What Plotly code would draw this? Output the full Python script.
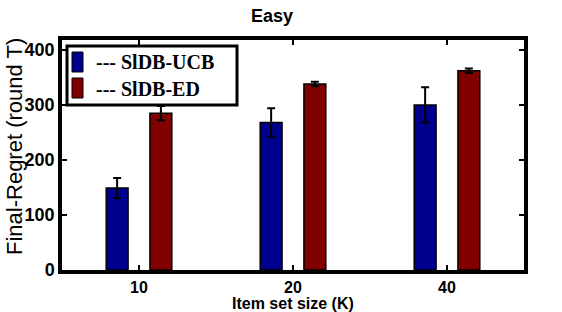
import plotly.graph_objects as go

categories = ["10", "20", "40"]
ucb_values = [149, 268, 300]
ucb_err = [18, 26, 32]
ed_values = [285, 338, 362]
ed_err = [13, 4, 4]
series_names = ["--- SlDB-UCB", "--- SlDB-ED"]
y_ticks = [0, 100, 200, 300, 400]

BLUE = "#00008F"
RED = "#800000"

fig = go.Figure()
fig.add_trace(go.Bar(
    x=categories, y=ucb_values, name=series_names[0],
    marker=dict(color=BLUE, line=dict(color="black", width=1.5)),
    error_y=dict(type="data", array=ucb_err, color="black", thickness=2, width=4),
    showlegend=False,
))
fig.add_trace(go.Bar(
    x=categories, y=ed_values, name=series_names[1],
    marker=dict(color=RED, line=dict(color="black", width=1.5)),
    error_y=dict(type="data", array=ed_err, color="black", thickness=2, width=4),
    showlegend=False,
))

W, H = 562, 312
l, r, t, b = 62, 38, 40, 42
pw, ph = W - l - r, H - t - b

def px(x):
    return (x - l) / pw

def py(y):
    return 1 - (y - t) / ph

shapes = [
    dict(type="rect", xref="paper", yref="paper",
         x0=px(67), x1=px(237), y0=py(105), y1=py(46),
         line=dict(color="black", width=3), fillcolor="white", layer="above"),
    dict(type="rect", xref="paper", yref="paper",
         x0=px(72), x1=px(83), y0=py(72), y1=py(52),
         line=dict(color="black", width=1), fillcolor=BLUE, layer="above"),
    dict(type="rect", xref="paper", yref="paper",
         x0=px(72), x1=px(83), y0=py(98), y1=py(78),
         line=dict(color="black", width=1), fillcolor=RED, layer="above"),
]
annotations = [
    dict(text="<b>%s</b>" % series_names[0], xref="paper", yref="paper",
         x=px(95), y=py(62), xanchor="left", yanchor="middle", showarrow=False,
         borderpad=0, font=dict(family="Liberation Serif", size=20, color="black")),
    dict(text="<b>%s</b>" % series_names[1], xref="paper", yref="paper",
         x=px(95), y=py(89), xanchor="left", yanchor="middle", showarrow=False,
         borderpad=0, font=dict(family="Liberation Serif", size=20, color="black")),
    dict(text="Final-Regret (round T)", xref="paper", yref="paper",
         x=px(14), y=py(147), xanchor="center", yanchor="middle", textangle=-90,
         showarrow=False, borderpad=0,
         font=dict(family="Liberation Sans", size=22, color="#000000")),
    dict(text="<b>Item set size (K)</b>", xref="paper", yref="paper",
         x=px(293), y=py(303.7), xanchor="center", yanchor="middle",
         showarrow=False, borderpad=0,
         font=dict(family="Liberation Sans", size=16, color="#000000")),
]

fig.update_layout(
    width=W, height=H,
    margin=dict(l=l, r=r, t=t, b=b),
    paper_bgcolor="white", plot_bgcolor="white",
    barmode="group", bargap=0.432, bargroupgap=0.5,
    title=dict(text="<b>Easy</b>", x=px(272), xref="paper", xanchor="center",
               y=1 - 16 / H, yanchor="middle",
               font=dict(family="Liberation Sans", size=18, color="black")),
    font=dict(family="Liberation Sans", color="black"),
    shapes=shapes, annotations=annotations,
)
fig.update_xaxes(
    type="category", range=[-0.5, 2.5], automargin=False,
    tickvals=categories, ticktext=["<b>%s</b>" % c for c in categories],
    showline=True, linecolor="black", linewidth=3.5, mirror="ticks",
    ticks="inside", ticklen=5, tickwidth=2, tickcolor="black",
    tickfont=dict(family="Liberation Sans", size=16, color="black"),
    showgrid=False, zeroline=False,
)
fig.update_yaxes(
    range=[0, 418], tickvals=y_ticks, ticktext=["<b>%d</b>" % v for v in y_ticks],
    automargin=False,
    showline=True, linecolor="black", linewidth=3.5, mirror="ticks",
    ticks="inside", ticklen=5, tickwidth=2, tickcolor="black",
    tickfont=dict(family="Liberation Sans", size=18, color="black"),
    showgrid=False, zeroline=False,
)

fig.write_html("out.html", config={"displayModeBar": False},
               post_script="document.body.style.margin='0';")
